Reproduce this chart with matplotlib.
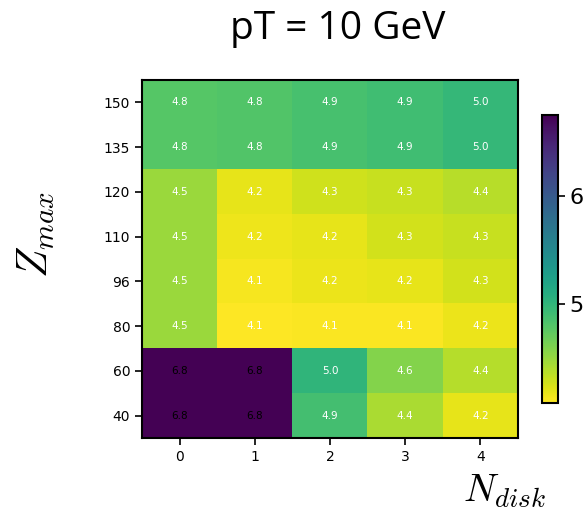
import numpy as np
import matplotlib
matplotlib.use("Agg")
import matplotlib.pyplot as plt

plt.rcParams['mathtext.fontset'] = 'cm'

# heatmap values, rows bottom -> top (Z_max), columns N_disk
n_disk = [0, 1, 2, 3, 4]
z_max = [40, 60, 80, 96, 110, 120, 135, 150]
row_40 = [6.75, 6.75, 4.88, 4.42, 4.18]
row_60 = [6.75, 6.75, 5.0, 4.58, 4.38]
row_80 = [4.48, 4.08, 4.1, 4.1, 4.16]
row_96 = [4.48, 4.12, 4.16, 4.18, 4.26]
row_110 = [4.48, 4.15, 4.18, 4.26, 4.3]
row_120 = [4.48, 4.18, 4.27, 4.3, 4.37]
row_135 = [4.78, 4.8, 4.86, 4.9, 4.97]
row_150 = [4.78, 4.8, 4.86, 4.9, 4.97]

values = np.array([row_40, row_60, row_80, row_96, row_110, row_120, row_135, row_150])

fig = plt.figure(figsize=(5.85, 5.11), dpi=100)
ax = fig.add_axes([0.2427, 0.1429, 0.6427, 0.7006])
cax = fig.add_axes([0.9265, 0.2114, 0.0274, 0.5636])

im = ax.imshow(values, cmap='viridis_r', origin='lower', aspect='auto',
               vmin=values.min(), vmax=values.max())

for i in range(len(z_max)):
    for j in range(len(n_disk)):
        v = values[i, j]
        ax.text(j, i, f"{v:.1f}", ha='center', va='center', fontsize=7.5,
                color='black' if v > 6 else 'white')

ax.set_xticks(range(len(n_disk)))
ax.set_xticklabels([str(n) for n in n_disk])
ax.set_yticks(range(len(z_max)))
ax.set_yticklabels([str(z) for z in z_max])
ax.tick_params(labelsize=10, length=5, width=1.2)
for s in ax.spines.values():
    s.set_linewidth(1.5)

cb = fig.colorbar(im, cax=cax, ticks=[5, 6])
cb.ax.tick_params(labelsize=16, length=5, width=1.2, pad=3)
cb.outline.set_linewidth(1.5)

fig.text(0.578, 0.924, "pT = 10 GeV", ha='center', va='baseline',
         fontsize=28, family='Open Sans')
fig.text(0.062, 0.54, r"$Z_{max}$", rotation=90, ha='center', va='center', fontsize=30)
fig.text(0.862, 0.04, r"$N_{disk}$", ha='center', va='center', fontsize=28)

fig.savefig("out.png", dpi=100)
